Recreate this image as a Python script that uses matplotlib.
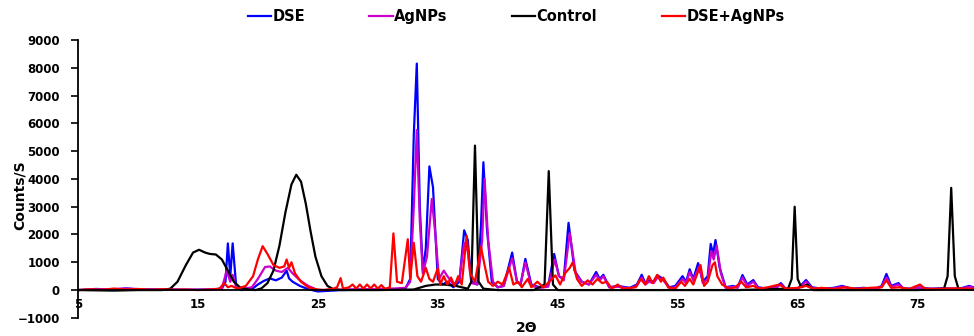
import matplotlib
matplotlib.use("Agg")
import matplotlib.pyplot as plt
from matplotlib import font_manager

# XRD patterns (2 theta, counts/s)
dse_2theta = [5, 6.5, 8, 9, 10, 12, 14, 16, 17.0, 17.3, 17.5, 17.7, 17.9, 18.2, 18.6, 19.5, 20.0, 20.5, 21.0, 21.5,
              22.0, 22.4, 22.6, 22.9, 23.5, 24.2, 25.0, 27, 29, 30.5, 31.5, 32.3, 32.7, 33.0, 33.25, 33.5, 33.75,
              34.0, 34.3, 34.6, 35.0, 35.4, 35.8, 36.3, 36.8, 37.2, 37.5, 37.8, 38.3, 38.6, 38.8, 39.1, 39.5, 40.0,
              40.5, 41.2, 41.6, 41.9, 42.3, 42.8, 43.5, 44.2, 44.7, 45.1, 45.5, 45.9, 46.4, 47.0, 47.6, 48.2, 48.5,
              48.8, 49.3, 50, 51, 51.6, 52.0, 52.3, 52.6, 53.0, 53.3, 53.8, 54.3, 54.8, 55.4, 55.7, 56.0, 56.3,
              56.7, 57.1, 57.5, 57.75, 57.95, 58.15, 58.5, 59.0, 59.6, 60.0, 60.4, 60.8, 61.3, 61.7, 62.5, 63.2,
              63.6, 64.0, 65.0, 65.7, 66.2, 67.0, 68.0, 68.7, 69.5, 70.5, 71.5, 72.0, 72.4, 72.8, 73.4, 73.8, 74.5,
              75.1, 76, 77, 78.5, 79.3, 80]
dse_counts = [0, 40, 20, 60, 30, 20, 10, 20, 50, 300, 1680, 500, 1680, 100, 0, 30, 200, 330, 420, 350,
              450, 700, 420, 300, 150, 30, -50, 0, 20, 40, 30, 50, 400, 5600, 8150, 3000, 700,
              1500, 4450, 3700, 400, 200, 300, 100, 300, 2150, 1800, 300, 200, 2300, 4600, 2200, 300, 100,
              150, 1350, 300, 200, 1120, 200, 100, 150, 1300, 500, 400, 2420, 700, 300, 200, 650, 400,
              550, 100, 150, 80, 200, 550, 250, 350, 300, 530, 400, 100, 150, 500, 300, 750, 400,
              970, 300, 500, 1660, 1300, 1800, 800, 100, 150, 100, 540, 200, 360, 100, 50, 100,
              250, 50, 50, 360, 100, 50, 80, 150, 50, 80, 50, 150, 580, 150, 250, 60, 50,
              100, 50, 60, 50, 150, 50]

agnps_2theta = [5, 7, 9, 11, 13, 15, 16.5, 17.0, 17.4, 17.7, 17.9, 18.2, 18.8, 19.5, 20.0, 20.6, 21.0, 21.5, 22.0,
                22.5, 22.9, 23.5, 24.2, 25.0, 27, 29, 30.5, 31.5, 32.3, 32.7, 33.0, 33.25, 33.5, 33.75, 34.1, 34.5,
                34.8, 35.1, 35.5, 35.8, 36.3, 36.8, 37.2, 37.5, 37.8, 38.3, 38.7, 38.9, 39.2, 39.6, 40.0, 40.5,
                41.2, 41.6, 41.9, 42.3, 42.8, 43.5, 44.2, 44.75, 45.1, 45.5, 46.0, 46.5, 47.0, 47.6, 48.2, 48.5,
                48.8, 49.3, 50, 51, 51.6, 52.0, 52.3, 52.6, 53.0, 53.3, 53.8, 54.3, 54.8, 55.4, 55.7, 56.0, 56.3,
                56.8, 57.1, 57.5, 57.8, 58.0, 58.25, 58.6, 59.0, 59.6, 60.0, 60.4, 60.8, 61.3, 61.7, 62.5, 63.2,
                63.6, 64.0, 65.0, 65.7, 66.2, 67.0, 68.0, 68.7, 69.5, 70.5, 71.5, 72.0, 72.4, 72.8, 73.4, 73.8,
                74.5, 75.1, 76, 77, 78.5, 79.3, 80]
agnps_counts = [0, 30, 50, 20, 20, 10, 30, 60, 700, 300, 550, 100, 50, 100, 400, 830, 850, 700, 650,
                800, 600, 350, 150, 0, 20, 30, 40, 60, 80, 300, 3000, 5760, 2500, 600, 1200, 3280,
                2000, 400, 700, 500, 200, 400, 1700, 1400, 250, 200, 1800, 4000, 1800, 300, 100, 150,
                1150, 300, 200, 1000, 150, 80, 120, 1100, 500, 350, 2050, 600, 300, 200, 550, 350,
                500, 100, 120, 60, 150, 450, 200, 300, 250, 450, 350, 80, 100, 400, 250, 650, 350,
                850, 250, 400, 1400, 1100, 1600, 600, 80, 120, 80, 450, 150, 300, 80, 40, 80,
                200, 40, 40, 300, 80, 40, 60, 120, 40, 60, 40, 120, 450, 120, 200, 50,
                40, 80, 40, 50, 40, 120, 40]

control_2theta = [5, 8, 10, 12, 12.7, 13.3, 14.0, 14.6, 15.1, 15.6, 16.0, 16.5, 17.0, 17.5, 18.0, 18.5, 19.2, 19.8,
                  20.3, 20.8, 21.3, 21.8, 22.3, 22.8, 23.2, 23.6, 24.0, 24.4, 24.8, 25.3, 25.8, 26.3, 27, 30, 33,
                  34, 34.8, 35.5, 36.5, 37.5, 37.8, 38.1, 38.4, 38.8, 40, 43, 43.9, 44.25, 44.6, 45, 50, 55, 60,
                  64.2, 64.5, 64.75, 65.0, 65.3, 65.8, 66.3, 70, 75, 77.2, 77.5, 77.8, 78.1, 78.4, 80]
control_counts = [0, -20, 0, 0, 50, 300, 900, 1350, 1450, 1350, 1300, 1280, 1100, 700, 300, 100, 20, 0,
                  60, 250, 700, 1600, 2800, 3800, 4150, 3900, 3100, 2100, 1200, 500, 150, 30, 0, 0, 20,
                  150, 200, 200, 150, 50, 300, 5200, 300, 50, 0, 0, 200, 4280, 200, 0, 0, 0, 0,
                  50, 400, 3000, 400, 100, 200, 0, 0, 0, 50, 500, 3680, 500, 50, 0]

mix_2theta = [5, 6, 7, 8, 9, 10, 11, 12, 13, 14, 15, 16, 16.8, 17.2, 17.5, 17.8, 18.3, 19.0, 19.6, 20.0, 20.4,
              20.8, 21.3, 21.8, 22.2, 22.4, 22.6, 22.8, 23.1, 23.6, 24.2, 24.8, 25.5, 26.3, 26.6, 26.9, 27.1,
              27.6, 27.9, 28.2, 28.5, 28.8, 29.1, 29.4, 29.7, 30.0, 30.3, 30.6, 31.0, 31.3, 31.6, 32.0, 32.5,
              32.7, 33.0, 33.3, 33.6, 34.0, 34.3, 34.6, 35.0, 35.2, 35.5, 35.8, 36.1, 36.4, 36.7, 37.0, 37.4,
              37.7, 38.1, 38.6, 38.9, 39.2, 39.6, 40.0, 40.4, 40.95, 41.3, 41.7, 42.0, 42.5, 42.8, 43.3, 43.8,
              44.3, 44.8, 45.2, 45.6, 46.0, 46.25, 46.6, 47.0, 47.5, 47.9, 48.3, 48.7, 49.1, 49.5, 50.0, 50.4,
              51.0, 51.5, 51.9, 52.3, 52.6, 52.9, 53.3, 53.6, 53.8, 54.2, 54.8, 55.3, 55.6, 56.0, 56.3, 56.9,
              57.2, 57.5, 57.9, 58.1, 58.3, 58.7, 59.3, 59.8, 60.3, 60.7, 61.3, 61.8, 62.5, 63.5, 64.0, 65.0,
              65.7, 66.3, 67.0, 68.0, 69.0, 70.0, 71.0, 72.0, 72.4, 72.8, 73.5, 74.3, 75.2, 75.6, 76.5, 78,
              79.3, 80]
mix_counts = [0, 30, 10, 50, 20, 40, 10, 30, 10, 20, 0, 20, 50, 250, 100, 150, 50, 150, 500, 1100, 1580,
              1300, 900, 800, 850, 1100, 800, 1000, 600, 300, 100, 30, 0, 50, 100, 430, 50,
              100, 200, 50, 200, 50, 200, 60, 200, 50, 180, 40, 100, 2040, 300, 250, 1830,
              400, 1700, 500, 300, 800, 400, 300, 780, 200, 500, 200, 450, 150, 500, 200, 1950,
              600, 300, 1550, 900, 300, 150, 300, 200, 800, 200, 300, 100, 400, 100, 300, 100,
              300, 530, 200, 600, 800, 1000, 400, 150, 350, 200, 400, 250, 300, 50, 200, 50,
              80, 100, 400, 200, 500, 250, 550, 300, 450, 100, 50, 300, 150, 400, 200, 900,
              150, 300, 900, 1000, 500, 200, 50, 100, 300, 100, 150, 50, 100, 200, 50, 80,
              150, 50, 80, 40, 100, 40, 80, 100, 350, 80, 100, 40, 200, 50, 40, 60,
              50, 30]

series_names = ["DSE", "AgNPs", "Control", "DSE+AgNPs"]
series_colors = ["#0000FF", "#CC00CC", "#000000", "#FF0000"]
y_ticks = list(range(-1000, 10000, 1000))
x_ticks = [5, 15, 25, 35, 45, 55, 65, 75]

# narrow bold font for legend / axis title if it is there (reference uses Calibri)
installed = {f.name for f in font_manager.fontManager.ttflist}
narrow = ["Liberation Sans Narrow", "DejaVu Sans"] if "Liberation Sans Narrow" in installed else ["DejaVu Sans"]

fig = plt.figure(figsize=(9.74, 3.36), dpi=100)
ax = fig.add_axes([0.080, 0.054, 0.92, 0.827])

data = [(dse_2theta, dse_counts), (agnps_2theta, agnps_counts),
        (control_2theta, control_counts), (mix_2theta, mix_counts)]
for (x, y), name, col in zip(data, series_names, series_colors):
    ax.plot(x, y, color=col, lw=1.6, label=name, solid_joinstyle="round")

ax.set_xlim(5, 79.7)
ax.set_ylim(-1000, 9000)
ax.set_yticks(y_ticks)
ax.set_xticks(x_ticks)

# excel style: horizontal axis crosses at 0
ax.spines["top"].set_visible(False)
ax.spines["right"].set_visible(False)
ax.spines["bottom"].set_position(("data", 0))
ax.spines["left"].set_linewidth(1.3)
ax.spines["bottom"].set_linewidth(1.3)
ax.tick_params(axis="y", direction="out", length=5, width=1.2, labelsize=8.5, pad=8)
ax.tick_params(axis="x", length=0, labelsize=8.5, pad=6)
for lab in ax.get_xticklabels() + ax.get_yticklabels():
    lab.set_fontweight("bold")

fig.text(0.020, 0.42, "Counts/S", rotation=90, ha="center", va="center",
         fontsize=10, fontweight="bold", family=narrow)
fig.text(0.541, 0.025, "2\u0398", ha="center", va="center", fontsize=10, fontweight="bold")

leg = fig.legend(loc="center", bbox_to_anchor=(0.53, 0.95), ncol=4, frameon=False,
                 handlelength=1.6, handletextpad=0.1, columnspacing=4.4,
                 prop={"family": narrow, "weight": "bold", "size": 10.5})

fig.savefig("out.png", dpi=100)
